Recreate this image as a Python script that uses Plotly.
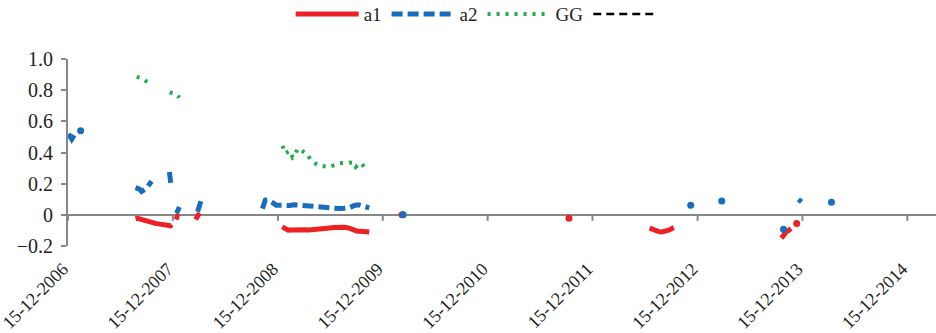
import plotly.graph_objects as go

# ---------------- data ----------------
# a1 (red) – connected segments, None separates gaps
a1_dates = [
    "2007-08-07", "2007-08-14", "2007-08-24", "2007-09-04", "2007-09-14", "2007-09-25",
    "2007-10-05", "2007-10-15", "2007-10-26", "2007-11-06", "2007-11-16", "2007-11-27",
    "2007-12-07", "2007-12-10", None,
    "2007-12-26", "2007-12-31", "2008-01-06", None,
    "2008-03-03", "2008-03-10", "2008-03-17", None,
    "2008-12-30", "2009-01-10", "2009-01-20", "2009-01-31", "2009-02-14", "2009-02-27",
    "2009-03-17", "2009-04-03", "2009-04-21", "2009-05-08", "2009-05-25", "2009-06-12",
    "2009-06-29", "2009-07-16", "2009-08-03", "2009-08-20", "2009-09-03", "2009-09-17",
    "2009-10-01", "2009-10-15", "2009-10-29", None,
    "2012-07-01", "2012-07-12", "2012-07-22", "2012-08-02", "2012-08-12", "2012-08-22",
    "2012-09-02", "2012-09-12", "2012-09-23", None,
    "2013-10-03", "2013-10-10", "2013-10-19", "2013-10-28", "2013-11-05",
]
a1_values = [
    -0.025, -0.022, -0.028, -0.035, -0.042, -0.048,
    -0.052, -0.055, -0.058, -0.060, -0.062, -0.065,
    -0.070, -0.062, None,
    -0.030, -0.010, -0.015, None,
    -0.030, -0.010, 0.012, None,
    -0.077, -0.090, -0.098, -0.097, -0.094, -0.092,
    -0.095, -0.097, -0.096, -0.092, -0.088, -0.085,
    -0.082, -0.080, -0.080, -0.085, -0.097, -0.105,
    -0.105, -0.108, -0.110, None,
    -0.085, -0.095, -0.103, -0.108, -0.110, -0.107,
    -0.100, -0.092, -0.082, None,
    -0.150, -0.130, -0.110, -0.100, -0.088,
]
a1_single_dates = ["2010-02-20", "2011-09-24", "2013-11-25"]
a1_single_values = [0.0, -0.022, -0.055]

# a2 (blue)
a2_dates = [
    "2006-12-17", "2006-12-23", "2006-12-28", "2007-01-02", "2007-01-07", None,
    "2007-08-07", "2007-08-14", "2007-08-21", "2007-08-28", "2007-09-04", "2007-09-11",
    "2007-09-18", "2007-09-25", "2007-10-02", None,
    "2007-12-03", "2007-12-05", "2007-12-07", "2007-12-08", None,
    "2007-12-28", "2008-01-02", "2008-01-07", None,
    "2008-03-10", "2008-03-17", "2008-03-24", None,
    "2008-10-22", "2008-10-27", "2008-11-01", "2008-11-08", "2008-11-19", "2008-11-29",
    "2008-12-09", "2008-12-23", "2009-01-06", "2009-01-24", "2009-02-10", "2009-02-27",
    "2009-03-17", "2009-04-03", "2009-04-21", "2009-05-08", "2009-05-25", "2009-06-12",
    "2009-06-29", "2009-07-16", "2009-08-03", "2009-08-20", "2009-09-07", "2009-09-21",
    "2009-10-04", "2009-10-18", "2009-10-29", None,
    "2013-12-01", "2013-12-12",
]
a2_values = [
    0.520, 0.500, 0.485, 0.500, 0.515, None,
    0.175, 0.170, 0.165, 0.150, 0.155, 0.165,
    0.180, 0.195, 0.215, None,
    0.275, 0.245, 0.220, 0.200, None,
    0.010, 0.030, 0.050, None,
    0.020, 0.060, 0.100, None,
    0.040, 0.070, 0.095, 0.098, 0.090, 0.075,
    0.062, 0.060, 0.062, 0.060, 0.065, 0.062,
    0.058, 0.055, 0.050, 0.045, 0.042, 0.040,
    0.040, 0.040, 0.042, 0.045, 0.060, 0.065,
    0.058, 0.047, 0.045, None,
    0.099, 0.083,
]
a2_single_dates = ["2007-01-28", "2010-02-24", "2012-11-21", "2013-03-09", "2013-10-10", "2014-03-26"]
a2_single_values = [0.54, 0.0, 0.062, 0.088, -0.093, 0.080]

# GG (green)
gg_dates = [
    "2007-08-11", "2007-08-18", "2007-08-25", "2007-09-01", "2007-09-11", "2007-09-22", None,
    "2007-12-04", "2007-12-28", "2008-01-07", None,
    "2008-12-31", "2009-01-09", "2009-01-26", "2009-02-04", "2009-02-10", "2009-02-22",
    "2009-03-05", "2009-03-25", "2009-04-03", "2009-04-15", "2009-05-08", "2009-05-25",
    "2009-06-12", "2009-07-16", "2009-08-06", "2009-08-20", "2009-09-07", "2009-09-12",
    "2009-09-30", "2009-10-19",
]
gg_values = [
    0.885, 0.880, 0.878, 0.875, 0.860, 0.850, None,
    0.786, 0.772, 0.752, None,
    0.443, 0.394, 0.411, 0.368, 0.377, 0.426,
    0.415, 0.394, 0.368, 0.340, 0.315, 0.312,
    0.308, 0.330, 0.336, 0.336, 0.334, 0.308,
    0.334, 0.291,
]

tick_dates = ["2006-12-15", "2007-12-15", "2008-12-15", "2009-12-15", "2010-12-15",
              "2011-12-15", "2012-12-15", "2013-12-15", "2014-12-15"]
tick_labels = ["15-12-2006", "15-12-2007", "15-12-2008", "15-12-2009", "15-12-2010",
               "15-12-2011", "15-12-2012", "15-12-2013", "15-12-2014"]
y_ticks = [-0.2, 0, 0.2, 0.4, 0.6, 0.8, 1.0]
y_tick_labels = ["\u22120.2", "0", "0.2", "0.4", "0.6", "0.8", "1.0"]

# ---------------- styling ----------------
RED = "#ED2024"
BLUE = "#1A6DBE"
GREEN = "#1DAF4B"
AXIS = "#878787"
TEXT = "#231F20"
FONT = "Liberation Serif"

fig = go.Figure()
fig.add_trace(go.Scatter(x=a1_dates, y=a1_values, mode="lines", name="a1",
                         line=dict(color=RED, width=5), connectgaps=False))
fig.add_trace(go.Scatter(x=a2_dates, y=a2_values, mode="lines", name="a2",
                         line=dict(color=BLUE, width=5, dash="11px,5px"), connectgaps=False))
fig.add_trace(go.Scatter(x=gg_dates, y=gg_values, mode="lines", name="GG",
                         line=dict(color=GREEN, width=4, dash="3px,6px"), connectgaps=False))
fig.add_trace(go.Scatter(x=[None], y=[None], mode="lines", name=" ",
                         line=dict(color="#000000", width=2.5, dash="8px,5px")))
fig.add_trace(go.Scatter(x=a1_single_dates, y=a1_single_values, mode="markers",
                         marker=dict(color=RED, size=7), showlegend=False))
fig.add_trace(go.Scatter(x=a2_single_dates, y=a2_single_values, mode="markers",
                         marker=dict(color=BLUE, size=7), showlegend=False))

# x axis crosses at 0: tick marks hang from the zero line
shapes = []
for d in tick_dates:
    shapes.append(dict(type="line", xref="x", yref="y", x0=d, x1=d,
                       ysizemode="pixel", yanchor=0, y0=0, y1=-6,
                       line=dict(color=AXIS, width=2), layer="above"))

fig.update_layout(
    width=936, height=333,
    margin=dict(l=68, r=0, t=59, b=87, autoexpand=False),
    paper_bgcolor="white", plot_bgcolor="white",
    font=dict(family=FONT, color=TEXT),
    showlegend=True,
    legend=dict(orientation="h", xref="paper", yref="paper",
                x=0.476, xanchor="center", y=1.24, yanchor="middle",
                font=dict(size=19, family=FONT, color=TEXT),
                bgcolor="rgba(0,0,0,0)", itemwidth=63, tracegroupgap=0),
    shapes=shapes,
)
fig.update_xaxes(type="date", range=["2006-12-15", "2015-03-25"],
                 tickvals=tick_dates, ticktext=tick_labels, tickangle=-45,
                 tickfont=dict(size=18, family=FONT, color=TEXT),
                 showgrid=False, showline=False, zeroline=False, ticks="",
                 ticklabelstandoff=8, ticklabelshift=-5, ticklabeloverflow="allow",
                 automargin=False)
fig.update_yaxes(range=[-0.2, 1.0], tickvals=y_ticks, ticktext=y_tick_labels,
                 tickfont=dict(size=20, family=FONT, color=TEXT),
                 showgrid=False, showline=True, linecolor=AXIS, linewidth=2,
                 ticks="outside", ticklen=5, tickwidth=2, tickcolor=AXIS,
                 zeroline=True, zerolinecolor=AXIS, zerolinewidth=2,
                 ticklabelstandoff=4, automargin=False)

# remove the browser's default 8px body margin so the figure fills the window
fig.write_html("out.html",
               config={"displayModeBar": False, "staticPlot": True},
               post_script="document.body.style.margin='0';")
